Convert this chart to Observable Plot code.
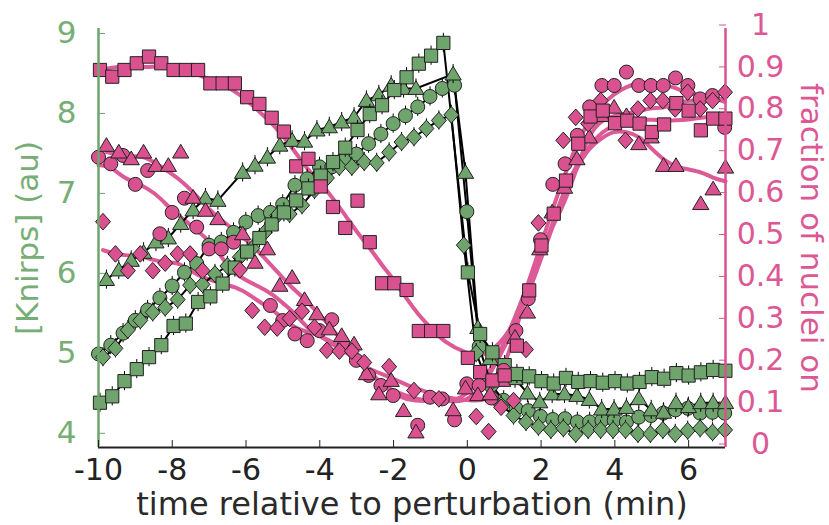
<!DOCTYPE html>
<html>
<head>
<meta charset="utf-8">
<script src="https://cdn.jsdelivr.net/npm/d3@7"></script>
<script src="https://cdn.jsdelivr.net/npm/@observablehq/plot@0.6"></script>
<style>
  body { margin: 0; background: #fff; }
  #chart { width: 829px; height: 525px; }
</style>
</head>
<body>
<div id="chart"></div>
<script>
// Knirps concentration (left axis) and fraction of transcribing nuclei (right axis)
// around the perturbation at t = 0, for four embryos (one marker shape each).

// Frame timing per embryo (minutes): first frame and frame interval
const frameStart = { square: -9.96, circle: -10, triangle: -9.785, diamond: -9.878 };
const frameStep  = { square: 0.3325, circle: 0.3329, triangle: 0.3357, diamond: 0.3373 };

// [Knirps] (au), one value per frame (null = frame not shown)
const knirpsSquare = [
  4.32, 4.40, 4.59, 4.74, 4.89, 5.04, 5.28, 5.31, 5.58, 5.65,
  5.81, 6.01, 6.21, 6.38, 6.55, 6.70, 6.85, 7.00, 7.16, 7.33,
  7.51, 7.73, 7.93, 8.04, 8.23, 8.39, 8.56, 8.66, 8.82, null,
  5.95, 5.18, 4.95, 4.79, 4.68, 4.65, 4.59, 4.56, 4.63, 4.58,
  4.59, 4.57, 4.59, 4.56, 4.58, 4.64, 4.62, 4.69, 4.66, 4.70,
  4.73, 4.72
];
const knirpsCircle = [
  4.93, 5.04, 5.19, 5.35, 5.48, 5.63, 5.78, 5.95, 6.06, 6.29,
  6.33, 6.45, 6.58, 6.66, 6.70, 6.80, 7.04, 7.12, 7.27, 7.27,
  7.35, 7.43, 7.56, 7.68, 7.81, 7.91, 8.02, 8.15, 8.25, 8.29,
  6.71, 5.02, 4.54, 4.35, 4.25, 4.22, 4.15, 4.11, 4.12, 4.08,
  4.08, 4.10, 4.10, 4.08, 4.14, 4.16, 4.19, 4.23, 4.25, 4.19,
  4.20, 4.19
];
const knirpsTriangle = [
  5.86, 5.98, 6.10, 6.20, 6.33, 6.38, 6.56, 6.73, 6.88, 6.85,
  null, 7.20, 7.29, 7.39, 7.54, 7.60, 7.59, 7.73, 7.77, 7.83,
  7.89, 8.10, 8.17, 8.29, 8.25, 8.25, null, null, 8.43, 7.20,
  5.26, 4.87, 4.73, 4.62, 4.44, 4.33, 4.43, 4.43, 4.41, 4.36,
  4.24, 4.24, 4.26, 4.37, 4.23, 4.20, 4.32, 4.27, 4.32, 4.32,
  4.32
];
const knirpsDiamond = [
  4.89, 5.00, 5.23, 5.35, 5.45, 5.51, 5.61, 5.79, 5.80, 5.93,
  6.03, 6.14, 6.25, 6.45, 6.66, 6.68, 6.79, 6.98, 7.13, 7.27,
  7.27, 7.33, 7.32, 7.45, 7.58, 7.64, 7.75, 7.85, 7.92, 6.29,
  4.94, 4.54, 4.29, 4.16, 4.08, 4.02, 3.98, 4.00, 3.93, 3.98,
  3.98, 3.98, 3.98, 3.93, 3.93, 3.98, 3.93, 3.97, 4.00, 3.95,
  3.98
];

// Fraction of nuclei on, same frames
const fracSquare = [
  0.901, 0.885, 0.901, 0.917, 0.933, 0.917, 0.901, 0.901, 0.901, 0.869,
  0.869, 0.869, 0.836, 0.820, 0.787, 0.754, 0.671, 0.689, 0.623, 0.574,
  0.524, 0.589, 0.490, 0.392, 0.392, 0.376, 0.278, 0.278, 0.278, null,
  0.214, 0.180, 0.160, 0.172, 0.243, 0.375, 0.482, 0.558, 0.637, 0.725,
  0.790, 0.804, 0.774, 0.780, 0.773, 0.753, 0.771, 0.822, 0.804, 0.757,
  0.785, 0.785
];
const fracCircle = [
  0.693, 0.677, 0.697, 0.628, 0.661, 0.510, 0.561, 0.595, 0.526, 0.474,
  0.474, 0.490, null, null, 0.339, 0.303, 0.271, 0.255, 0.279, 0.305,
  0.243, 0.208, 0.172, 0.148, 0.124, null, 0.053, 0.120, 0.116, 0.066,
  0.152, 0.148, 0.118, 0.184, 0.279, 0.355, 0.496, 0.628, 0.677, 0.745,
  0.813, 0.864, 0.864, 0.896, 0.864, 0.864, 0.864, 0.882, 0.864, 0.832,
  0.840, 0.764
];
const fracTriangle = [
  0.721, 0.705, 0.689, 0.705, 0.673, 0.673, 0.705, 0.597, 0.566, 0.546,
  null, 0.510, 0.442, 0.474, 0.387, 0.406, 0.353, 0.319, 0.283, 0.267,
  0.247, 0.176, 0.128, 0.160, 0.088, 0.037, null, null, 0.090, 0.142,
  0.126, 0.128, 0.160, 0.263, 0.323, 0.474, 0.562, 0.621, 0.689, 0.741,
  0.792, 0.812, 0.792, 0.725, 0.741, 0.673, 0.673, null, 0.582, 0.617,
  0.669
];
const fracDiamond = [
  0.539, 0.462, 0.422, 0.462, 0.422, 0.440, 0.462, 0.462, 0.422, null,
  null, 0.424, 0.327, 0.287, 0.285, 0.308, 0.325, 0.287, 0.232, 0.230,
  0.230, 0.203, null, 0.193, null, 0.136, null, 0.116, null, null,
  0.074, 0.038, 0.096, 0.112, 0.234, 0.536, null, 0.733, 0.788, 0.773,
  0.828, null, 0.733, 0.808, 0.828, 0.828, 0.808, 0.848, 0.808, 0.828,
  0.848
];

// Axis ticks
const timeTicks = [-10, -8, -6, -4, -2, 0, 2, 4, 6];
const knirpsTicks = [4, 5, 6, 7, 8, 9];
const fracTicks = [0, 0.1, 0.2, 0.3, 0.4, 0.5, 0.6, 0.7, 0.8, 0.9, 1];

const green = "#6fa56d", greenText = "#77ae75";
const pink = "#d9528f", pinkText = "#dc5894", pinkCurve = "#dc5a96";
const ink = "#222";
const sem = 0.12; // half-height of the error ticks on Knirps points

// Knirps domain; the fraction axis is mapped linearly onto it
const kLo = 3.76, kHi = 9;
const fracToK = f => kLo + f * (kHi - kLo);
const kToFrac = k => (k - kLo) / (kHi - kLo);

// Marker shapes (size = pi r^2, as passed by Plot's dot mark)
const rOf = size => Math.sqrt(size / Math.PI);
const shapes = {
  square: { draw(c, s) { const r = rOf(s); c.rect(-r, -r, 2 * r, 2 * r); } },
  circle: "circle",
  triangle: { draw(c, s) { const r = rOf(s); c.moveTo(0, -r * 1.05); c.lineTo(r * 1.1, r * 0.8); c.lineTo(-r * 1.1, r * 0.8); c.closePath(); } },
  diamond: { draw(c, s) { const r = rOf(s); c.moveTo(0, -r); c.lineTo(r * 0.9, 0); c.lineTo(0, r); c.lineTo(-r * 0.9, 0); c.closePath(); } }
};
const markerR = { square: 6.6, circle: 7, triangle: 7.4, diamond: 8.3 };

const series = [
  { name: "circle", knirps: knirpsCircle, frac: fracCircle },
  { name: "triangle", knirps: knirpsTriangle, frac: fracTriangle },
  { name: "diamond", knirps: knirpsDiamond, frac: fracDiamond },
  { name: "square", knirps: knirpsSquare, frac: fracSquare }
];
const toRows = (name, values) =>
  values.map((v, i) => ({ embryo: name, t: frameStart[name] + i * frameStep[name], v }))
        .filter(d => d.v != null);

const knirpsRows = series.map(s => toRows(s.name, s.knirps));
const fracRows = series.map(s => toRows(s.name, s.frac));

const marks = [];

// smoothed fraction-on traces
for (const rows of fracRows) {
  marks.push(Plot.line(rows, Plot.windowY({ k: 7, reduce: "mean" }, {
    x: "t", y: d => fracToK(d.v), stroke: pinkCurve, strokeWidth: 4, curve: "basis"
  })));
}

// Knirps traces: connecting line, error ticks, markers
for (const rows of knirpsRows) {
  marks.push(Plot.line(rows, { x: "t", y: "v", stroke: "#000", strokeWidth: 2 }));
}
for (let i = 0; i < series.length; i++) {
  const name = series[i].name, rows = knirpsRows[i];
  marks.push(Plot.ruleX(rows, { x: "t", y1: d => d.v - sem, y2: d => d.v + sem, stroke: "#000", strokeWidth: 1 }));
  marks.push(Plot.dot(rows, { x: "t", y: "v", symbol: shapes[name], r: markerR[name], fill: green, stroke: ink, strokeWidth: 1 }));
}

// fraction-on markers
for (let i = 0; i < series.length; i++) {
  const name = series[i].name, rows = fracRows[i];
  marks.push(Plot.dot(rows, { x: "t", y: d => fracToK(d.v), symbol: shapes[name], r: markerR[name], fill: pink, stroke: ink, strokeWidth: 1 }));
}

// axes
marks.push(
  Plot.ruleY([kLo], { stroke: ink, strokeWidth: 2 }),
  Plot.ruleX([-10], { stroke: green, strokeWidth: 2.5 }),
  Plot.ruleX([7], { stroke: pink, strokeWidth: 2.5 }),
  Plot.axisX(timeTicks, {
    tickSize: -7, tickPadding: 18, color: ink, fontSize: 30,
    tickFormat: d => String(d), label: null
  }),
  Plot.axisY(knirpsTicks, {
    anchor: "left", tickSize: -7, tickPadding: 29, dy: 5, color: greenText, stroke: green,
    fontSize: 31, tickFormat: d => String(d), label: null
  }),
  Plot.axisY(fracTicks.map(fracToK), {
    anchor: "right", tickSize: -7, tickPadding: 42, textAnchor: "middle", dy: -3.5,
    color: pinkText, stroke: pink, fontSize: 30,
    tickFormat: k => String(+kToFrac(k).toFixed(1)), label: null
  }),
  Plot.text(["[Knirps] (au)"], {
    text: d => d, frameAnchor: "left", textAnchor: "middle", lineAnchor: "middle",
    dx: -70, rotate: -90, fill: greenText, fontSize: 31
  }),
  Plot.text(["fraction of nuclei on"], {
    text: d => d, frameAnchor: "right", textAnchor: "middle", lineAnchor: "middle",
    dx: 85, rotate: 90, fill: pinkText, fontSize: 31
  }),
  Plot.text(["time relative to perturbation (min)"], {
    text: d => d, frameAnchor: "bottom", textAnchor: "middle", lineAnchor: "middle",
    dy: 57, fill: "#2a2a2a", fontSize: 32, letterSpacing: "1px"
  })
);

const chart = Plot.plot({
  width: 829,
  height: 525,
  marginLeft: 98,
  marginRight: 104,
  marginTop: 28,
  marginBottom: 78,
  x: { domain: [-10, 7] },
  y: { domain: [kLo, kHi] },
  style: { fontFamily: "DejaVu Sans", background: "#fff", overflow: "visible" },
  marks
});
document.getElementById("chart").appendChild(chart);
</script>
</body>
</html>
